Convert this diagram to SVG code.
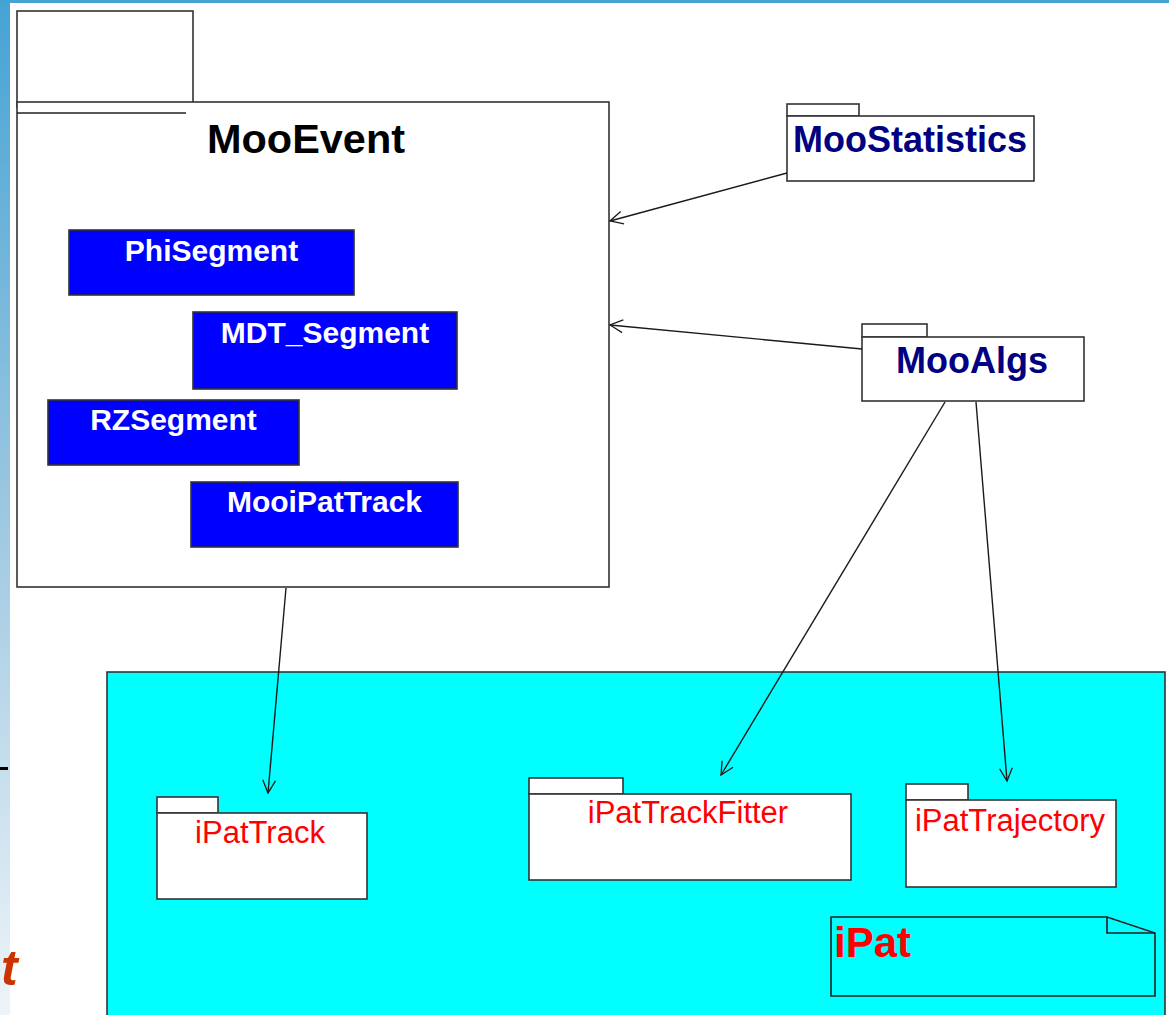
<svg xmlns="http://www.w3.org/2000/svg" width="1169" height="1015" viewBox="0 0 1169 1015">
<defs>
<linearGradient id="side" x1="0" y1="0" x2="0" y2="1">
<stop offset="0" stop-color="#45a3d4"/>
<stop offset="0.5" stop-color="#9cc7e1"/>
<stop offset="1" stop-color="#eef4f8"/>
</linearGradient>
<marker id="open" viewBox="0 0 20 20" refX="18" refY="10" markerWidth="16" markerHeight="16" markerUnits="userSpaceOnUse" orient="auto">
<path d="M2,2 L18,10 L2,18" fill="none" stroke="#1a1a1a" stroke-width="1.6"/>
</marker>
</defs>
<style>
.box{fill:#fff;stroke:#333;stroke-width:1.6}
.cls{fill:#0000ff;stroke:#333;stroke-width:1.6}
.clsT{font-family:"Liberation Sans",Arial,sans-serif;font-weight:bold;font-size:30px;fill:#fff;text-anchor:middle}
.pkgT{font-family:"Liberation Sans",Arial,sans-serif;font-weight:bold;font-size:36px;fill:#000080;text-anchor:middle}
.redT{font-family:"Liberation Sans",Arial,sans-serif;font-size:31px;fill:#ff0000;text-anchor:middle}
.conn{fill:none;stroke:#1a1a1a;stroke-width:1.4;marker-end:url(#open)}
</style>
<rect x="0" y="0" width="1169" height="1015" fill="#fff"/>
<rect x="0" y="0" width="10" height="1015" fill="url(#side)"/>
<rect x="0" y="0" width="1169" height="3" fill="#45a3d4"/>
<rect x="0" y="767" width="8" height="3" fill="#000"/>
<text x="1" y="985" font-family="Liberation Sans,Arial,sans-serif" font-weight="bold" font-style="italic" font-size="50" fill="#cc3300">t</text>

<g id="iPat">
<rect x="107" y="672" width="1058" height="350" fill="#00ffff" stroke="#333" stroke-width="1.6"/>
</g>

<g id="MooEvent">
<rect class="box" x="17" y="11" width="176" height="96"/>
<rect class="box" x="17" y="102" width="592" height="485"/>
<line x1="17" y1="113" x2="186" y2="113" stroke="#222" stroke-width="1.6"/>
<text x="306" y="153" font-family="Liberation Sans,Arial,sans-serif" font-weight="bold" font-size="40" fill="#000" text-anchor="middle" textLength="198" lengthAdjust="spacingAndGlyphs">MooEvent</text>
</g>
<g id="PhiSegment">
<rect class="cls" x="69" y="230" width="285" height="65"/>
<text class="clsT" x="211.5" y="261">PhiSegment</text>
</g>
<g id="MDT_Segment">
<rect class="cls" x="193" y="312" width="264" height="77"/>
<text class="clsT" x="325" y="343">MDT_Segment</text>
</g>
<g id="RZSegment">
<rect class="cls" x="48" y="400" width="251" height="65"/>
<text class="clsT" x="173.5" y="430">RZSegment</text>
</g>
<g id="MooiPatTrack">
<rect class="cls" x="191" y="482" width="267" height="65"/>
<text class="clsT" x="324.5" y="512">MooiPatTrack</text>
</g>

<g id="MooStatistics">
<rect class="box" x="787" y="104" width="72" height="12"/>
<rect class="box" x="787" y="116" width="247" height="65"/>
<text class="pkgT" x="910" y="152">MooStatistics</text>
</g>
<g id="MooAlgs">
<rect class="box" x="862" y="324" width="65" height="13"/>
<rect class="box" x="862" y="337" width="222" height="64"/>
<text class="pkgT" x="972" y="373">MooAlgs</text>
</g>

<g id="iPatTrack">
<rect class="box" x="157" y="797" width="61" height="16"/>
<rect class="box" x="157" y="813" width="210" height="86"/>
<text class="redT" x="260" y="843">iPatTrack</text>
</g>
<g id="iPatTrackFitter">
<rect class="box" x="529" y="778" width="94" height="16"/>
<rect class="box" x="529" y="794" width="322" height="86"/>
<text class="redT" x="688" y="823">iPatTrackFitter</text>
</g>
<g id="iPatTrajectory">
<rect class="box" x="906" y="784" width="62" height="16"/>
<rect class="box" x="906" y="800" width="210" height="87"/>
<text class="redT" x="1010" y="831">iPatTrajectory</text>
</g>
<g id="iPatNote">
<path d="M831,917 L1107,917 L1155,933 L1155,996 L831,996 Z" fill="#00ffff" stroke="#222" stroke-width="1.6"/>
<path d="M1107,917 L1107,933 L1155,933" fill="none" stroke="#222" stroke-width="1.6"/>
<text x="834" y="957" font-family="Liberation Sans,Arial,sans-serif" font-weight="bold" font-size="42" fill="#ff0000">iPat</text>
</g>

<g id="connectors">
<line class="conn" x1="787" y1="173" x2="610" y2="221"/>
<line class="conn" x1="862" y1="349" x2="610" y2="325"/>
<line class="conn" x1="286" y1="588" x2="268" y2="793"/>
<line class="conn" x1="945" y1="402" x2="721" y2="775"/>
<line class="conn" x1="976" y1="402" x2="1007" y2="781"/>
</g>
</svg>
